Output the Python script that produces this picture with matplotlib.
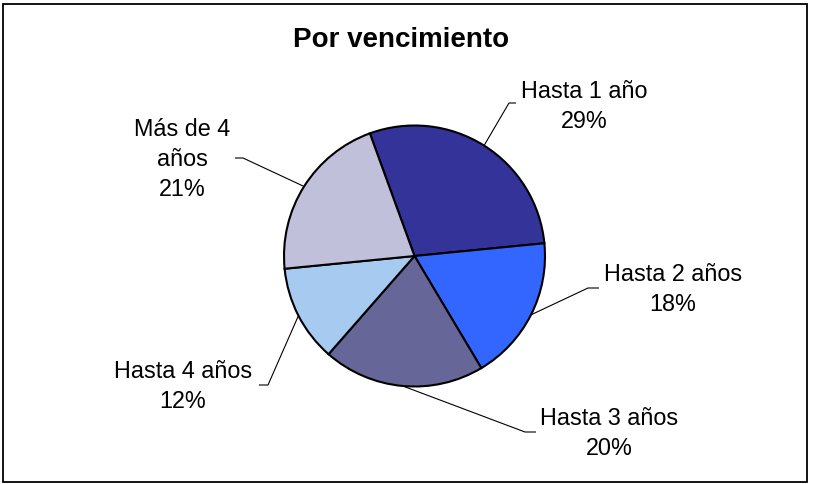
import matplotlib
matplotlib.use("Agg")
import matplotlib.pyplot as plt
import numpy as np
from matplotlib.patches import Rectangle

# ---- data ----
categories = ["Hasta 1 año", "Hasta 2 años", "Hasta 3 años", "Hasta 4 años", "Más de 4\naños"]
values = [29, 18, 20, 12, 21]
colors = ["#333399", "#3366FF", "#666699", "#A6CAF0", "#C0C0DA"]
title = "Por vencimiento"

# label placement (pixels: centre x, last-line baseline y) and leader elbows
label_pos = [(584.5, 128), (673, 311), (609, 455), (183, 408), (182, 196)]
leader_elbow = [(509, 104), (588, 289), (525, 433), (268, 386), (243, 159)]
leader_end = [(516, 104), (599, 289), (536, 433), (259, 386), (235, 159)]

W, H = 824, 485
plt.rcParams['font.family'] = ['Liberation Sans', 'DejaVu Sans']
fig = plt.figure(figsize=(W / 100, H / 100), dpi=100)
fig.patch.set_facecolor("white")

# pie geometry in pixels
cx, cy, R = 414.5, 257.0, 130.5
ax = fig.add_axes([(cx - R) / W, (H - (cy + R)) / H, 2 * R / W, 2 * R / H])

startangle = 110
wedges, _ = ax.pie(values, colors=colors, startangle=startangle, counterclock=False,
                   radius=1.0, wedgeprops=dict(edgecolor="black", linewidth=1.5))
ax.set_xlim(-1, 1)
ax.set_ylim(-1, 1)
ax.set_aspect("equal")
ax.axis("off")


def px2data(px, py):
    return (px - cx) / R, (cy - py) / R


total = float(sum(values))
for i, (w, name, v) in enumerate(zip(wedges, categories, values)):
    mid = np.deg2rad((w.theta1 + w.theta2) / 2.0)
    sx, sy = np.cos(mid), np.sin(mid)
    ex, ey = px2data(*leader_elbow[i])
    fx, fy = px2data(*leader_end[i])
    ax.plot([sx, ex, fx], [sy, ey, fy], color="black", lw=0.8, clip_on=False,
            solid_capstyle="butt")
    lx, ly = px2data(*label_pos[i])
    pct = f"{round(100 * v / total):d}%"
    ax.text(lx, ly, f"{name}\n{pct}", ha="center", va="baseline", fontsize=16.8,
            linespacing=1.4, multialignment="center", clip_on=False)

fig.text(401 / W, 1 - 47 / H, title, ha="center", va="baseline", fontsize=20,
         fontweight="bold")

fig.add_artist(Rectangle((3 / W, 2 / H), 804 / W, 478 / H, transform=fig.transFigure,
                         fill=False, edgecolor="black", linewidth=1.3))

fig.savefig("out.png", dpi=100, facecolor="white")
